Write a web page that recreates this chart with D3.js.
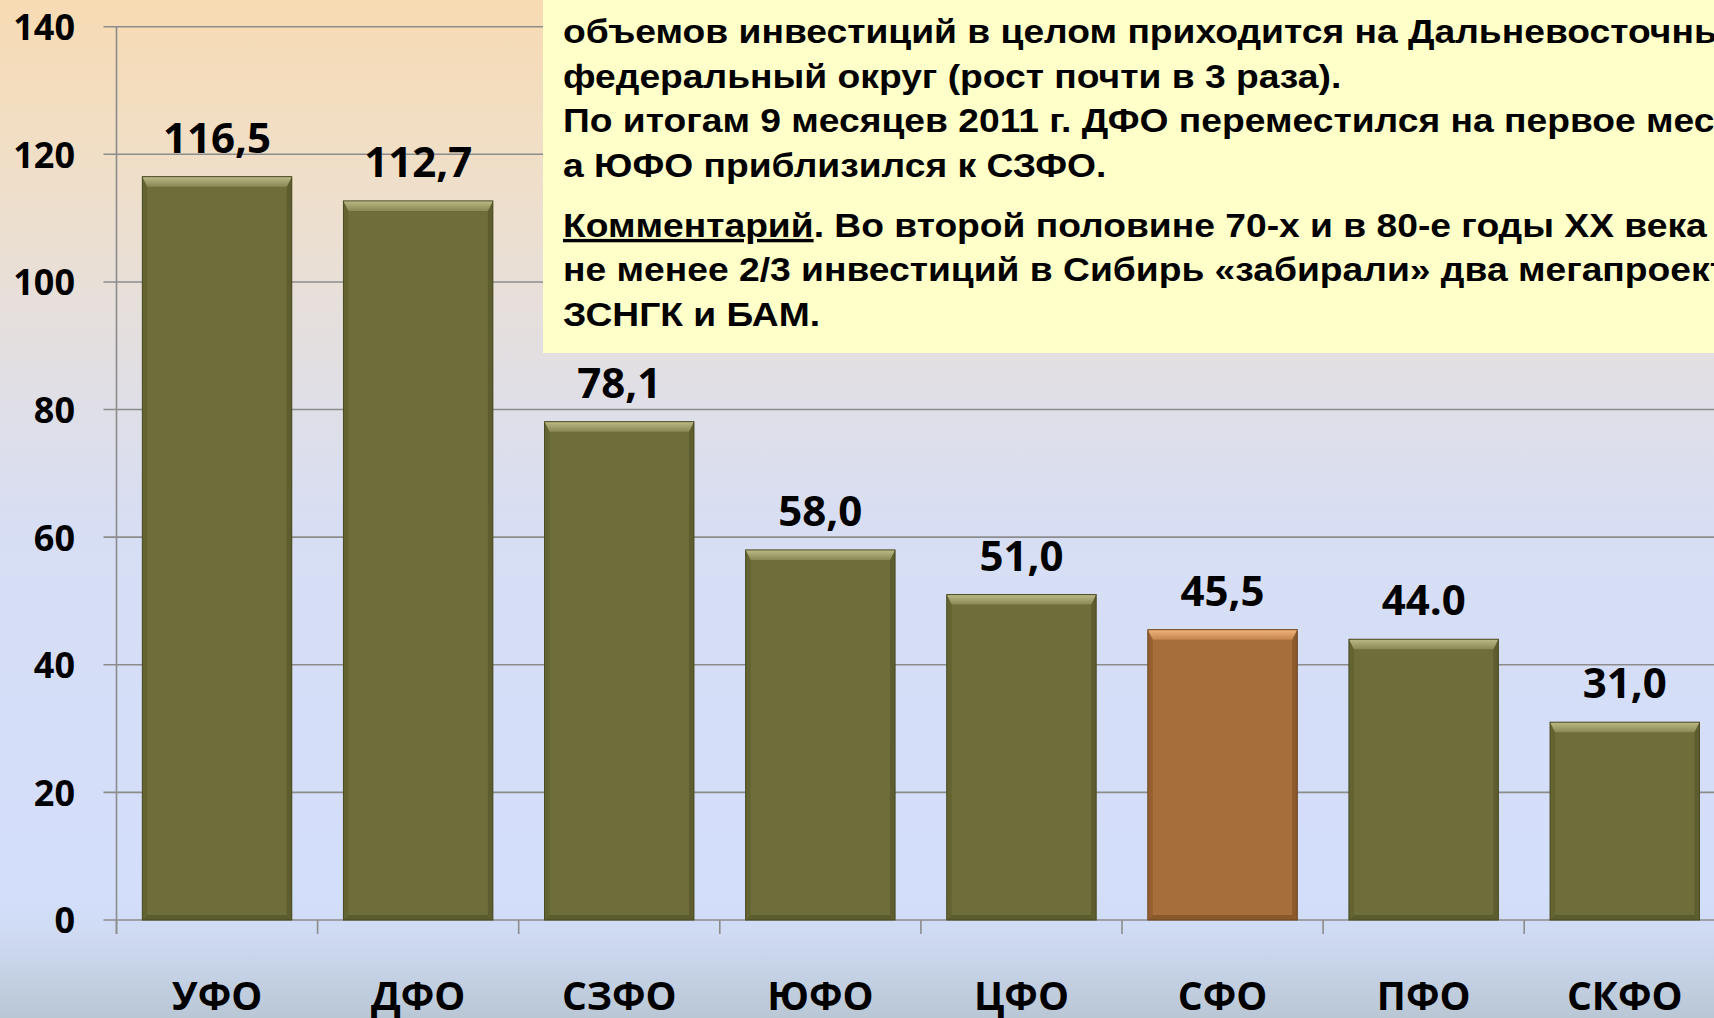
<!DOCTYPE html>
<meta charset="utf-8">
<script src="https://d3js.org/d3.v7.min.js"></script>
<style>
html, body { margin: 0; padding: 0; overflow: hidden; }
svg { display: block; }
</style>
<div id="chart"></div>
<script>
// data
const regions = ['УФО', 'ДФО', 'СЗФО', 'ЮФО', 'ЦФО', 'СФО', 'ПФО', 'СКФО'];
const values = [116.5, 112.7, 78.1, 58.0, 51.0, 45.5, 44.0, 31.0];
const valueLabels = ['116,5', '112,7', '78,1', '58,0', '51,0', '45,5', '44.0', '31,0'];
const highlighted = ['СФО'];
const yTicks = [0, 20, 40, 60, 80, 100, 120, 140];
const noteLines = [
	'объемов инвестиций в целом приходится на Дальневосточный',
	'федеральный округ (рост почти в 3 раза).',
	'По итогам 9 месяцев 2011 г. ДФО переместился на первое место,',
	'а ЮФО приблизился к СЗФО.'
];
const commentTitle = 'Комментарий';
const commentLines = [
	'. Во второй половине 70-х и в 80-е годы XX века',
	'не менее 2/3 инвестиций в Сибирь «забирали» два мегапроекта:',
	'ЗСНГК и БАМ.'
];

const width = 1714, height = 1018;
const axisX = 116.5, zeroY = 920, topY = 26.7;
const chartFont = '"Open Sans", "Noto Sans", sans-serif';

const svg = d3.select('#chart').append('svg')
	.attr('width', width)
	.attr('height', height)
	.attr('viewBox', [0, 0, width, height]);

const defs = svg.append('defs');
const bg = defs.append('linearGradient').attr('id', 'bg')
	.attr('x1', 0).attr('y1', 0).attr('x2', 0).attr('y2', 1);
[[0, '#f7dbb3'], [0.18, '#efdfca'], [0.36, '#e2dfe3'], [0.52, '#d7def4'],
 [0.88, '#d3defb'], [0.92, '#cfdaf2'], [1, '#b9c7d5']].forEach(s => {
	bg.append('stop').attr('offset', s[0]).attr('stop-color', s[1]);
});

function bevelGradient(id, light, mid) {
	const g = defs.append('linearGradient').attr('id', id)
		.attr('x1', 0).attr('y1', 0).attr('x2', 0).attr('y2', 1);
	g.append('stop').attr('offset', 0).attr('stop-color', light);
	g.append('stop').attr('offset', 1).attr('stop-color', mid);
}
bevelGradient('topOlive', '#bcbb88', '#8a8954');
bevelGradient('topOrange', '#f0b47c', '#c4854c');

svg.append('rect')
	.attr('width', width).attr('height', height)
	.attr('fill', 'url(#bg)');

const x = d3.scaleBand()
	.domain(regions)
	.range([axisX, axisX + 8 * 201.1])
	.paddingInner(0.257)
	.paddingOuter(0.1285);

const y = d3.scaleLinear()
	.domain([0, 140])
	.range([zeroY, topY]);

// gridlines
svg.append('g')
	.selectAll('line')
	.data(yTicks)
	.join('line')
	.attr('x1', axisX - 13)
	.attr('x2', width)
	.attr('y1', d => y(d))
	.attr('y2', d => y(d))
	.attr('stroke', '#8c8c8c')
	.attr('stroke-width', 1.6);

// y axis labels
const yAxis = d3.axisLeft(y).tickValues(yTicks).tickSize(0).tickPadding(0);
svg.append('g')
	.attr('transform', `translate(75,0)`)
	.call(yAxis)
	.call(g => g.select('.domain').remove())
	.selectAll('text')
	.attr('font-family', chartFont)
	.attr('font-weight', 'bold')
	.attr('font-size', 36)
	.attr('fill', '#000')
	.attr('dy', '0.36em');

// axis line and category ticks
svg.append('line')
	.attr('x1', axisX).attr('x2', axisX)
	.attr('y1', topY).attr('y2', zeroY + 14)
	.attr('stroke', '#8c8c8c').attr('stroke-width', 1.6);

svg.append('g')
	.selectAll('line')
	.data(regions)
	.join('line')
	.attr('x1', d => x(d) - x.step() * x.paddingInner() / 2)
	.attr('x2', d => x(d) - x.step() * x.paddingInner() / 2)
	.attr('y1', zeroY)
	.attr('y2', zeroY + 14)
	.attr('stroke', '#8c8c8c').attr('stroke-width', 1.6);

// bars with bevel
const bars = svg.append('g')
	.selectAll('g')
	.data(regions.map((r, i) => ({region: r, value: values[i], label: valueLabels[i]})))
	.join('g');

const isHi = d => highlighted.includes(d.region);
const bevel = 10, side = 5;

bars.append('rect')
	.attr('x', d => x(d.region))
	.attr('y', d => y(d.value))
	.attr('width', x.bandwidth())
	.attr('height', d => zeroY - y(d.value))
	.attr('fill', d => isHi(d) ? '#a66e3b' : '#6e6e3a');

// left and right shading
bars.append('path')
	.attr('d', d => {
		const x0 = x(d.region), y0 = y(d.value);
		return `M${x0},${y0} L${x0 + side},${y0 + bevel} L${x0 + side},${zeroY - side} L${x0},${zeroY} Z`;
	})
	.attr('fill', d => isHi(d) ? '#965f30' : '#646433');
bars.append('path')
	.attr('d', d => {
		const x1 = x(d.region) + x.bandwidth(), y0 = y(d.value);
		return `M${x1},${y0} L${x1 - side},${y0 + bevel} L${x1 - side},${zeroY - side} L${x1},${zeroY} Z`;
	})
	.attr('fill', d => isHi(d) ? '#8c592b' : '#5d5d2f');
// bottom
bars.append('path')
	.attr('d', d => {
		const x0 = x(d.region), x1 = x0 + x.bandwidth();
		return `M${x0},${zeroY} L${x0 + side},${zeroY - side} L${x1 - side},${zeroY - side} L${x1},${zeroY} Z`;
	})
	.attr('fill', d => isHi(d) ? '#8a5829' : '#5b5b2d');
// top highlight
bars.append('path')
	.attr('d', d => {
		const x0 = x(d.region), x1 = x0 + x.bandwidth(), y0 = y(d.value);
		return `M${x0},${y0} L${x1},${y0} L${x1 - side},${y0 + bevel} L${x0 + side},${y0 + bevel} Z`;
	})
	.attr('fill', d => isHi(d) ? 'url(#topOrange)' : 'url(#topOlive)');

bars.append('rect')
	.attr('x', d => x(d.region))
	.attr('y', d => y(d.value))
	.attr('width', x.bandwidth())
	.attr('height', d => zeroY - y(d.value))
	.attr('fill', 'none')
	.attr('stroke', d => isHi(d) ? '#6e4520' : '#4a4a22')
	.attr('stroke-width', 1);

// value labels
bars.append('text')
	.attr('x', d => x(d.region) + x.bandwidth() / 2)
	.attr('y', d => y(d.value) - 24)
	.attr('text-anchor', 'middle')
	.attr('font-family', chartFont)
	.attr('font-weight', 'bold')
	.attr('font-size', 42)
	.attr('fill', '#000')
	.text(d => d.label);

// category labels
svg.append('g')
	.selectAll('text')
	.data(regions)
	.join('text')
	.attr('x', d => x(d) + x.bandwidth() / 2)
	.attr('y', 1010)
	.attr('text-anchor', 'middle')
	.attr('font-family', chartFont)
	.attr('font-weight', 'bold')
	.attr('font-size', 39)
	.attr('fill', '#000')
	.text(d => d);

// note box
const note = svg.append('g');
note.append('rect')
	.attr('x', 543).attr('y', 0)
	.attr('width', width - 543).attr('height', 353)
	.attr('fill', '#ffffc9');

// the slide text is slightly wider than plain Arial, so stretch it a bit
const noteText = note.append('g')
	.attr('transform', 'translate(563,0) scale(1.095,1)')
	.attr('font-family', '"Liberation Sans", Arial, sans-serif')
	.attr('font-weight', 'bold')
	.attr('font-size', 34)
	.attr('fill', '#000');

noteText.selectAll('text.note')
	.data(noteLines)
	.join('text')
	.attr('class', 'note')
	.attr('x', 0)
	.attr('y', (d, i) => 43.5 + i * 44.5)
	.text(d => d);

const c0 = noteText.append('text').attr('x', 0).attr('y', 237);
c0.append('tspan').attr('text-decoration', 'underline').text(commentTitle);
c0.append('tspan').text(commentLines[0]);

noteText.selectAll('text.comment')
	.data(commentLines.slice(1))
	.join('text')
	.attr('class', 'comment')
	.attr('x', 0)
	.attr('y', (d, i) => 281.5 + i * 44.5)
	.text(d => d);
</script>
